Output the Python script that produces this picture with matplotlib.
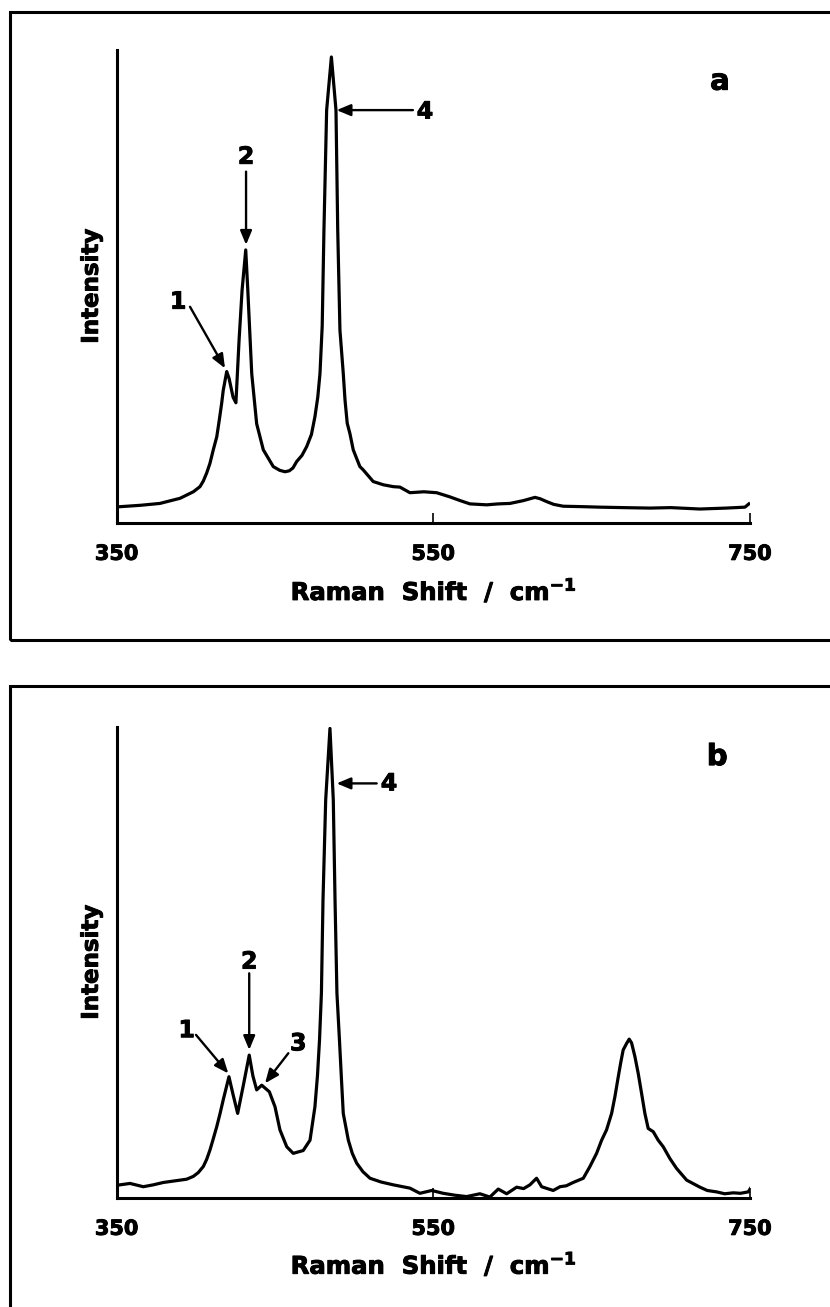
import matplotlib
matplotlib.use("Agg")
import matplotlib.pyplot as plt
import matplotlib.patheffects as pe
from matplotlib.patches import Rectangle

plt.rcParams['font.family'] = ['DejaVu Sans']
plt.rcParams['font.weight'] = 'bold'
plt.rcParams['mathtext.default'] = 'regular'

# heavier lettering
HEAVY = [pe.withStroke(linewidth=0.7, foreground='black')]

# Raman spectrum (a): wavenumber (cm-1) and relative intensity
wn_a = [352.1, 365.0, 377.3, 390.0, 398.4, 402.6, 404.7, 406.8, 408.9, 411.0,
        413.2, 414.8, 416.3, 417.3, 419.5, 421.0, 423.5, 425.3, 427.3, 429.2,
        431.5, 432.8, 435.3, 438.4, 442.6, 448.9, 453.0, 456.3, 459.0, 461.3,
        463.7, 467.0, 470.0, 473.0, 475.2, 477.0, 478.4, 479.8, 480.9, 482.6,
        485.6, 488.5, 489.6, 491.0, 493.1, 494.2, 495.6, 497.3, 499.4, 503.6,
        505.7, 512.0, 518.4, 524.7, 528.9, 535.2, 544.0, 552.1, 560.5, 567.0,
        573.1, 583.7, 591.0, 598.4, 606.8, 611.0, 614.2, 617.5, 621.5, 626.0,
        632.0, 645.0, 655.2, 670.0, 686.8, 700.0, 718.3, 735.0, 746.8, 749.3]
int_a = [3.5, 3.8, 4.2, 5.3, 6.7, 7.8, 9.0, 10.7, 12.8, 15.7,
         18.5, 22.1, 25.7, 28.5, 32.5, 31.0, 27.0, 25.8, 39.3, 50.0,
         58.6, 50.0, 32.0, 21.3, 15.7, 12.1, 11.3, 11.0, 11.2, 11.8,
         13.2, 14.5, 16.4, 19.0, 22.8, 27.0, 32.1, 42.3, 62.9, 88.6,
         100.0, 88.6, 62.9, 41.4, 32.1, 26.4, 21.4, 19.2, 15.7, 12.1,
         11.4, 8.9, 8.2, 7.8, 7.7, 6.5, 6.7, 6.5, 5.6, 4.8,
         4.1, 3.9, 4.1, 4.2, 4.8, 5.2, 5.5, 5.2, 4.6, 4.0,
         3.6, 3.5, 3.4, 3.3, 3.2, 3.3, 3.0, 3.2, 3.4, 4.1]

# Raman spectrum (b)
wn_b = [352.1, 358.4, 366.8, 373.1, 379.4, 387.9, 394.2, 398.4, 401.5, 404.7,
        406.8, 408.9, 411.0, 413.2, 415.3, 417.3, 420.9, 423.5, 426.4, 430.0,
        433.7, 436.0, 438.4, 441.6, 446.4, 450.0, 453.1, 457.4, 461.5, 467.8,
        472.1, 475.2, 476.8, 478.1, 479.3, 480.3, 482.0, 484.7, 486.8, 487.9,
        489.1, 490.7, 492.0, 493.1, 496.3, 498.8, 501.6, 505.5, 510.0, 517.0,
        524.7, 535.2, 541.5, 549.0, 556.2, 563.5, 571.0, 579.4, 585.7, 591.0,
        596.3, 602.6, 607.0, 611.0, 615.2, 618.4, 622.0, 625.7, 630.0, 634.0,
        638.3, 644.7, 648.9, 653.1, 656.3, 659.4, 662.6, 664.7, 666.8, 668.3,
        669.9, 672.1, 673.7, 675.2, 677.3, 679.4, 681.5, 683.6, 685.7, 688.9,
        692.0, 695.2, 699.4, 703.6, 710.0, 718.4, 723.0, 728.9, 734.0, 739.4,
        744.0, 748.9, 750.4]
int_b = [2.8, 3.1, 2.4, 2.8, 3.3, 3.7, 4.0, 4.6, 5.4, 6.7,
         8.2, 10.2, 12.6, 15.2, 18.0, 20.9, 25.8, 22.0, 18.0, 24.0,
         30.4, 26.0, 23.0, 24.0, 22.6, 19.4, 14.5, 10.9, 9.5, 10.1,
         12.3, 19.4, 26.0, 33.6, 43.6, 63.4, 84.7, 99.9, 84.7, 63.4,
         43.6, 33.6, 25.0, 18.0, 12.3, 9.5, 7.4, 5.6, 4.2, 3.4,
         2.8, 2.1, 1.0, 1.6, 1.0, 0.6, 0.3, 0.9, 0.2, 1.9,
         0.9, 2.3, 2.0, 2.8, 4.2, 2.4, 2.0, 1.6, 2.4, 2.6,
         3.3, 4.2, 6.7, 9.5, 12.3, 14.5, 18.0, 21.6, 25.8, 28.7,
         31.5, 32.9, 33.8, 33.0, 30.1, 26.5, 22.3, 18.0, 14.8, 14.1,
         12.3, 10.9, 8.4, 6.3, 3.8, 2.3, 1.6, 1.3, 0.9, 1.1,
         1.0, 1.3, 2.1]

x_ticks = [350, 550, 750]
x_label = 'Raman  Shift  /  cm$^{-1}$'
y_label = 'Intensity'

W, H = 830, 1307
fig = plt.figure(figsize=(W / 100, H / 100), dpi=100)

# panel frames
fig.add_artist(Rectangle((10 / W, 1 - 640 / H), 840 / W, 628 / H,
                         transform=fig.transFigure, fill=False,
                         lw=2.2, ec='black', clip_on=False))
fig.add_artist(Rectangle((10 / W, -0.05), 840 / W, 1 - 686 / H + 0.05,
                         transform=fig.transFigure, fill=False,
                         lw=2.2, ec='black', clip_on=False))

ax_a = fig.add_axes([116.7 / W, 1 - 523 / H, 633.3 / W, 473 / H])
ax_b = fig.add_axes([116.7 / W, 1 - 1198 / H, 633.3 / W, 471 / H])


def style(ax, ytop, xlab_y):
    ax.set_xlim(350, 750)
    ax.set_ylim(0, ytop)
    for s in ('top', 'right'):
        ax.spines[s].set_visible(False)
    for s in ('left', 'bottom'):
        ax.spines[s].set_linewidth(2.2)
    ax.set_yticks([])
    ax.set_xticks(x_ticks)
    ax.set_xticklabels([str(t) for t in x_ticks])
    ax.tick_params(axis='x', direction='in', length=7, width=1.2,
                   pad=15, labelsize=15)
    for lab in ax.get_xticklabels():
        lab.set_fontweight('bold')
        lab.set_path_effects(HEAVY)
    ax.set_ylabel(y_label, fontsize=16.5, fontweight='bold', labelpad=10,
                  path_effects=HEAVY)
    ax.set_xlabel(x_label, fontsize=17.5, fontweight='bold', va='baseline',
                  path_effects=HEAVY)
    ax.xaxis.set_label_coords(0.5, xlab_y)


def arrow(ax, start, tip):
    ax.annotate('', xy=tip, xytext=start,
                arrowprops=dict(arrowstyle='-|>,head_length=0.6,head_width=0.25',
                                mutation_scale=14, lw=1.7, color='black',
                                shrinkA=0, shrinkB=0))


def label(ax, x, y, s, size=17):
    ax.text(x, y, s, ha='center', va='center', fontsize=size,
            fontweight='bold', path_effects=HEAVY)


# (a)
ax_a.plot(wn_a, int_a, color='black', lw=2.3, solid_joinstyle='round')
style(ax_a, 101.5, -0.163)
label(ax_a, 388.8, 47.5, '1')
arrow(ax_a, (396.3, 46.4), (418.4, 33.2))
label(ax_a, 431.7, 78.6, '2')
arrow(ax_a, (431.7, 75.4), (431.7, 59.7))
label(ax_a, 544.7, 88.3, '4')
arrow(ax_a, (537.1, 88.6), (488.9, 88.6))
label(ax_a, 731.0, 94.7, 'a', size=21)

# (b)
ax_b.plot(wn_b, int_b, color='black', lw=2.3, solid_joinstyle='round')
style(ax_b, 100.2, -0.161)
label(ax_b, 394.2, 35.7, '1')
arrow(ax_b, (400.1, 34.7), (420.5, 26.5))
label(ax_b, 433.7, 50.3, '2')
arrow(ax_b, (433.7, 47.8), (433.7, 31.5))
label(ax_b, 464.7, 32.9, '3')
arrow(ax_b, (458.4, 30.8), (443.7, 24.4))
label(ax_b, 522.0, 88.2, '4')
arrow(ax_b, (514.2, 88.2), (488.9, 88.2))
label(ax_b, 729.3, 93.8, 'b', size=21)

fig.savefig('out.png', dpi=100)
